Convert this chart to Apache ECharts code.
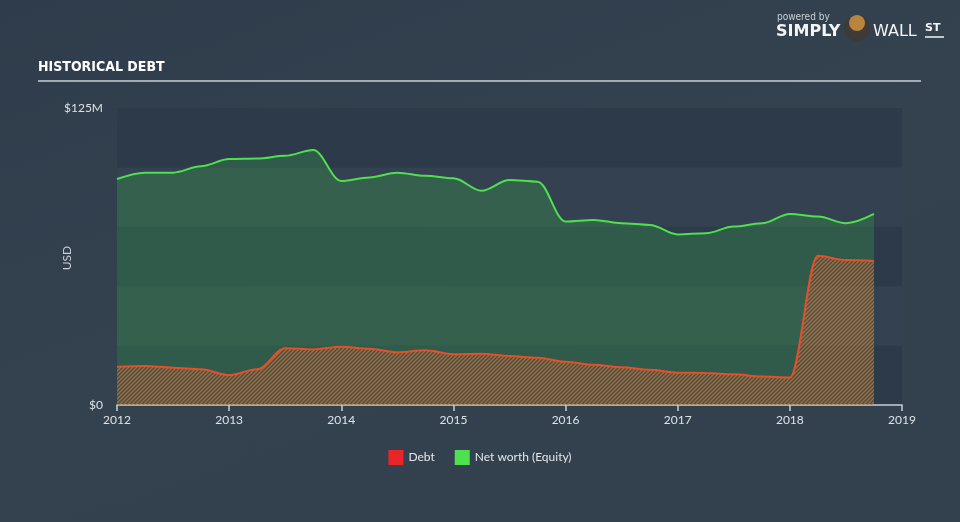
<!DOCTYPE html>
<html>
<head>
<meta charset="utf-8">
<script src="https://cdn.jsdelivr.net/npm/echarts@6/dist/echarts.min.js"></script>
<style>
html,body{margin:0;padding:0;width:960px;height:522px;overflow:hidden;}
#c{width:960px;height:522px;background:linear-gradient(160deg,#2f3c4b 0%,#344250 45%,#33404e 100%);}
</style>
</head>
<body>
<div id="c"></div>
<script>
// Time points (fractional years, quarterly)
const dates = [2012.0,2012.25,2012.5,2012.75,2013.0,2013.25,2013.5,2013.75,2014.0,2014.25,2014.5,2014.75,2015.0,2015.25,2015.5,2015.75,2016.0,2016.25,2016.5,2016.75,2017.0,2017.25,2017.5,2017.75,2018.0,2018.25,2018.5,2018.75];
// Values in $M
const debt = [16.1,16.4,15.7,15.0,12.6,15.0,23.9,23.4,24.5,23.7,22.2,23.0,21.4,21.6,20.6,19.9,18.2,16.9,15.9,14.8,13.6,13.5,12.9,12.0,11.6,62.8,61.0,60.6];
const equity = [95.1,97.8,97.8,100.5,103.5,103.7,104.9,107.3,94.3,95.8,97.8,96.5,95.4,90.2,94.7,94.0,77.2,77.9,76.5,75.8,71.8,72.3,75.1,76.5,80.4,79.3,76.5,80.4];
const xTicks = [2012,2013,2014,2015,2016,2017,2018,2019];
const yMin = 0, yMax = 125, yStep = 25;
const seriesNames = ['Debt','Net worth (Equity)'];

function hatch(){
  const c = document.createElement('canvas');
  c.width = 4; c.height = 4;
  const g = c.getContext('2d');
  g.strokeStyle = 'rgba(212,100,56,0.85)';
  g.lineWidth = 1.4;
  g.beginPath();
  g.moveTo(0,4); g.lineTo(4,0);
  g.moveTo(-1,1); g.lineTo(1,-1);
  g.moveTo(3,5); g.lineTo(5,3);
  g.stroke();
  return c;
}

const chart = echarts.init(document.getElementById('c'), null, {renderer:'canvas'});
const font = 'Lato, "DejaVu Sans", sans-serif';
chart.setOption({
  backgroundColor:'transparent',
  animation:false,
  grid:{left:117,right:58,top:108,bottom:117,containLabel:false},
  graphic:[
    {type:'text',left:38,top:60,style:{text:'HISTORICAL DEBT',fill:'#ffffff',font:'bold 14px "DejaVu Sans Condensed", "Liberation Sans Narrow", sans-serif'}},
    {type:'line',shape:{x1:38,y1:81,x2:921,y2:81},style:{stroke:'#a3abb4',lineWidth:2}},
    {type:'text',x:67,y:258,rotation:Math.PI/2,style:{text:'USD',fill:'#c9ced4',font:'12px Lato, "DejaVu Sans", sans-serif',align:'center',verticalAlign:'middle'}},
    {type:'text',left:777,top:12,style:{text:'powered by',fill:'#c9ced4',font:'10px "DejaVu Sans Condensed", sans-serif'}},
    {type:'text',left:776,top:24,style:{text:'SIMPLY',fill:'#f2f4f6',font:'bold 16px "DejaVu Sans", sans-serif'}},
    {type:'circle',shape:{cx:857,cy:28,r:13},style:{fill:'#3d3a38'}},
    {type:'circle',shape:{cx:857,cy:23,r:8},style:{fill:'#b8843e'}},
    {type:'text',left:873,top:24,style:{text:'WALL',fill:'#f2f4f6',font:'16px "DejaVu Sans", sans-serif'}},
    {type:'text',left:925,top:23,style:{text:'ST',fill:'#f2f4f6',font:'bold 11px "DejaVu Sans", sans-serif'}},
    {type:'line',shape:{x1:925,y1:37,x2:944,y2:37},style:{stroke:'#f2f4f6',lineWidth:1.5}}
  ],
  legend:{
    bottom:52,left:'center',
    itemWidth:15,itemHeight:15,itemGap:20,
    icon:'rect',
    textStyle:{color:'#e3e7eb',fontSize:12,fontFamily:font},
    data:[{name:seriesNames[0],itemStyle:{color:'#e8262a'}},{name:seriesNames[1],itemStyle:{color:'#4fe04f'}}]
  },
  xAxis:{
    type:'value',min:xTicks[0],max:xTicks[xTicks.length-1],interval:1,
    axisLine:{show:true,lineStyle:{color:'#c8d0d8',width:1.5}},
    axisTick:{show:true,length:6,lineStyle:{color:'#c8d0d8',width:1.5}},
    axisLabel:{color:'#dde2e7',fontSize:12,fontFamily:font,margin:9,formatter:v=>String(Math.round(v))},
    splitLine:{show:false}
  },
  yAxis:{
    type:'value',min:yMin,max:yMax,interval:yStep,
    axisLine:{show:false},axisTick:{show:false},
    axisLabel:{color:'#dde2e7',fontSize:12,fontFamily:font,margin:14,
      formatter:v=> (v===yMin ? '$0' : (v===yMax ? '$'+v+'M' : ''))},
    splitLine:{show:false},
    splitArea:{show:true,areaStyle:{color:['#2d3a4a','#334150']}}
  },
  series:[
    {
      name:seriesNames[1],type:'line',smooth:0.35,smoothMonotone:'x',symbol:'none',
      data:dates.map((d,i)=>[d,equity[i]]),
      lineStyle:{color:'#4fe04f',width:2},
      itemStyle:{color:'#4fe04f'},
      areaStyle:{color:'rgba(62,212,72,0.3)',origin:'start'},
      z:2
    },
    {
      name:seriesNames[0],type:'line',smooth:0.35,smoothMonotone:'x',symbol:'none',
      data:dates.map((d,i)=>[d,debt[i]]),
      lineStyle:{color:'#e4502a',width:2},
      itemStyle:{color:'#e8262a'},
      areaStyle:{color:{image:hatch(),repeat:'repeat'},opacity:1,origin:'start'},
      z:3
    }
  ]
});
</script>
</body>
</html>
